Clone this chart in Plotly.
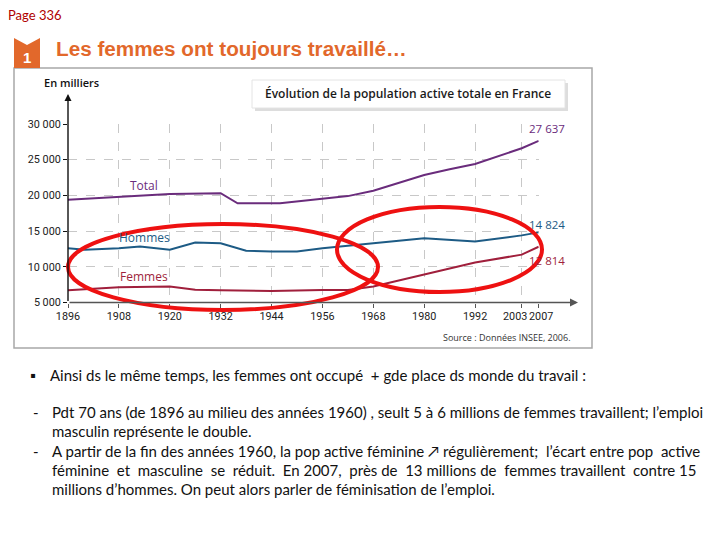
import plotly.graph_objects as go

W, H = 720, 540
OFF = 8  # page body margin of the browser

def px(x):
    return (x - OFF) / W

def py(y):
    return 1 - (y - OFF) / H

# ---------------- data (en milliers) ----------------
x_ticks = [1896, 1908, 1920, 1932, 1944, 1956, 1968, 1980, 1992, 2003, 2007]
x_tick_labels = ["1896", "1908", "1920", "1932", "1944", "1956", "1968", "1980", "1992", "2003", "2007"]
y_ticks = [5000, 10000, 15000, 20000, 25000, 30000]
y_tick_labels = ["5 000", "10 000", "15 000", "20 000", "25 000", "30 000"]

total_years = [1896, 1908, 1920, 1932, 1936, 1946, 1954, 1962, 1968, 1980, 1986, 1992, 2003, 2007]
total_vals = [19400, 19830, 20200, 20300, 18900, 18900, 19400, 19900, 20650, 22850, 23650, 24400, 26600, 27637]

hommes_years = [1896, 1900, 1908, 1913, 1920, 1926, 1932, 1938, 1944, 1950, 1956, 1962, 1968, 1980, 1992, 2003, 2007]
hommes_vals = [12600, 12400, 12600, 12850, 12400, 13400, 13300, 12250, 12150, 12150, 12600, 12950, 13300, 14000, 13550, 14400, 14824]

femmes_years = [1896, 1908, 1920, 1926, 1932, 1944, 1956, 1962, 1968, 1980, 1992, 2003, 2007]
femmes_vals = [6700, 7150, 7250, 6800, 6700, 6600, 6750, 6750, 7250, 8900, 10600, 11700, 12814]

C_TOTAL = "#6a2c7c"
C_HOMMES = "#1d5b85"
C_FEMMES = "#a01f3c"
C_RED = "#ee1111"
C_ORANGE = "#e2682b"

TICKFONT = dict(family="Roboto", size=10.8, color="#222")

def fmt(v):
    return f"{v:,}".replace(",", " ")

fig = go.Figure()
fig.add_trace(go.Scatter(x=total_years, y=total_vals, mode="lines",
                         line=dict(color=C_TOTAL, width=2), hoverinfo="skip"))
fig.add_trace(go.Scatter(x=hommes_years, y=hommes_vals, mode="lines",
                         line=dict(color=C_HOMMES, width=2), hoverinfo="skip"))
fig.add_trace(go.Scatter(x=femmes_years, y=femmes_vals, mode="lines",
                         line=dict(color=C_FEMMES, width=2), hoverinfo="skip"))

# plot area in pixels
X0, X1 = 68, 538.7
Y0, Y1 = 302.5, 124

shapes = []
annotations = []

def note(x, y, text, font, xanchor="left", **kw):
    annotations.append(dict(xref="paper", yref="paper", x=px(x), y=py(y), text=text,
                            showarrow=False, xanchor=xanchor, yanchor="middle", font=font, **kw))

# chart frame
shapes.append(dict(type="rect", xref="paper", yref="paper",
                   x0=px(14), x1=px(592), y0=py(348), y1=py(68),
                   line=dict(color="#a8a8a8", width=1.5), fillcolor="rgba(0,0,0,0)", layer="below"))
# orange badge
badge = (f"M {px(14)},{py(38)} L {px(27)},{py(45)} L {px(40)},{py(38)} "
         f"L {px(40)},{py(68)} L {px(14)},{py(68)} Z")
shapes.append(dict(type="path", xref="paper", yref="paper", path=badge,
                   fillcolor=C_ORANGE, line=dict(width=0)))
note(27, 58, "<b>1</b>", dict(family="Liberation Sans", size=15, color="white"), xanchor="center")
note(54, 48, "<b>Les femmes ont toujours travaillé…</b>",
     dict(family="Liberation Sans", size=20.7, color=C_ORANGE))

# title box with shadow
shapes.append(dict(type="rect", xref="paper", yref="paper",
                   x0=px(255), x1=px(568), y0=py(111), y1=py(83),
                   fillcolor="#cfcfcf", line=dict(width=0), opacity=0.7, layer="below"))
shapes.append(dict(type="rect", xref="paper", yref="paper",
                   x0=px(252), x1=px(565), y0=py(108), y1=py(80),
                   fillcolor="white", line=dict(color="#e4e4e4", width=1)))
note(408, 94, "Évolution de la population active totale en France",
     dict(family="Open Sans", size=12, color="#1a1a1a", weight=600), xanchor="center")

# axis arrows
annotations.append(dict(xref="paper", yref="paper", x=px(578), y=py(Y0),
                        axref="pixel", ayref="pixel", ax=X0 - 578, ay=0, text="",
                        showarrow=True, arrowhead=2, arrowsize=1, arrowwidth=1.6, arrowcolor="#555",
                        standoff=0, startstandoff=0))
annotations.append(dict(xref="paper", yref="paper", x=px(X0), y=py(94),
                        axref="pixel", ayref="pixel", ax=0, ay=Y0 - 94, text="",
                        showarrow=True, arrowhead=2, arrowsize=1, arrowwidth=1.4, arrowcolor="#111",
                        standoff=0, startstandoff=0))
note(42, 83, "En milliers", dict(family="Open Sans", size=11, color="#111", weight=600))

# the two last x tick labels are set apart (ticks too close)
for i, dx in [(-2, -7), (-1, 2)]:
    annotations.append(dict(xref="x", yref="paper", x=x_ticks[i], y=py(316.5), text=x_tick_labels[i],
                            showarrow=False, xanchor="center", yanchor="middle", xshift=dx,
                            font=TICKFONT))
shown_ticktext = x_tick_labels[:-2] + ["", ""]

# series labels
for yv, name, col in [(21450, "Total", C_TOTAL), (14050, "Hommes", C_HOMMES), (8600, "Femmes", C_FEMMES)]:
    annotations.append(dict(x=1914, y=yv, text=name, showarrow=False, xanchor="center", yanchor="middle",
                            font=dict(family="Open Sans", size=12, color=col)))

# end values
for xs, ys, col, dy in [(total_years, total_vals, C_TOTAL, 12),
                        (hommes_years, hommes_vals, C_HOMMES, 8),
                        (femmes_years, femmes_vals, C_FEMMES, -14)]:
    annotations.append(dict(x=xs[-1], y=ys[-1], text=fmt(ys[-1]), showarrow=False,
                            xanchor="center", yanchor="middle", xshift=8, yshift=dy,
                            font=dict(family="Open Sans", size=11.5, color=col)))

note(573, 337, "Source : Données INSEE, 2006.", dict(family="Open Sans", size=9, color="#333"),
     xanchor="right")

# hand drawn red ellipses
shapes.append(dict(type="circle", xref="paper", yref="paper",
                   x0=px(68), x1=px(378), y0=py(310), y1=py(224),
                   line=dict(color=C_RED, width=4)))
shapes.append(dict(type="circle", xref="paper", yref="paper",
                   x0=px(337), x1=px(542), y0=py(292), y1=py(207),
                   line=dict(color=C_RED, width=4)))

# page text
NB = "\u00a0"
TXT = dict(family="Lato", size=15, color="#111")
note(6, 15, "Page 336", dict(family="Lato", size=13, color="#b00000"))
note(28, 375, "▪", TXT)
lines = [
    (48, 375, "Ainsi ds le même temps, les femmes ont occupé " + NB + "+ gde place ds monde du travail :"),
    (31, 412, "-"),
    (50, 412, "Pdt 70 ans (de 1896 au milieu des années 1960) , seult 5 à 6 millions de femmes travaillent; l’emploi"),
    (50, 431, "masculin représente le double."),
    (31, 451, "-"),
    (50, 451, "A partir de la fin des années 1960, la pop active féminine ↗ régulièrement; " + NB +
     "l’écart entre pop " + NB + "active"),
    (50, 470, "féminine " + NB + "et " + NB + "masculine " + NB + "se " + NB + "réduit. " + NB + "En " +
     "2007, " + NB + "près de " + NB + "13 millions de " + NB + "femmes travaillent " +
     NB + "contre 15"),
    (50, 489, "millions d’hommes. On peut alors parler de féminisation de l’emploi."),
]
for x, y, t in lines:
    note(x, y, t, TXT)

fig.update_layout(
    width=W, height=H,
    margin=dict(l=0, r=0, t=0, b=0, autoexpand=False),
    paper_bgcolor="white", plot_bgcolor="white",
    showlegend=False,
    shapes=shapes, annotations=annotations,
    xaxis=dict(domain=[px(X0), px(X1)], range=[x_ticks[0], x_ticks[-1]],
               tickvals=x_ticks, ticktext=shown_ticktext, tickangle=0,
               showgrid=True, gridcolor="#c8c8c8", griddash="dash", gridwidth=1,
               zeroline=False, showline=False,
               ticks="outside", ticklen=4, tickcolor="#555",
               tickfont=TICKFONT, fixedrange=True),
    yaxis=dict(domain=[py(Y0), py(Y1)], range=[y_ticks[0], y_ticks[-1]],
               tickvals=y_ticks, ticktext=y_tick_labels,
               showgrid=True, gridcolor="#c8c8c8", griddash="dash", gridwidth=1,
               zeroline=False, showline=False,
               ticks="outside", ticklen=4, tickcolor="#111",
               tickfont=TICKFONT, fixedrange=True),
)

fig.write_html("out.html")
